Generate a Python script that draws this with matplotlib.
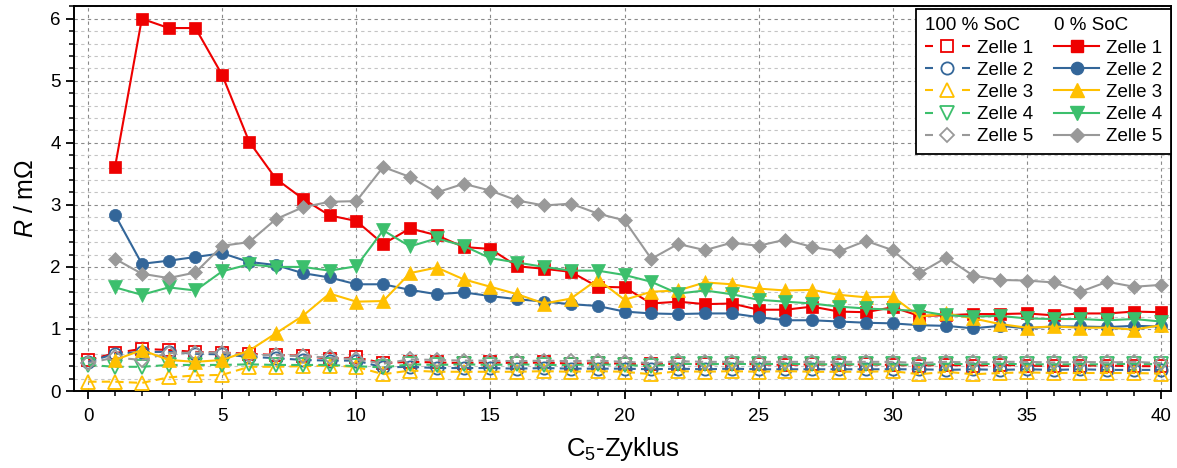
import matplotlib
matplotlib.use("Agg")
import matplotlib.pyplot as plt
from matplotlib.lines import Line2D
from matplotlib.ticker import MultipleLocator

plt.rcParams["font.family"] = ["Liberation Sans", "DejaVu Sans"]
plt.rcParams["mathtext.fontset"] = "custom"
plt.rcParams["mathtext.rm"] = "Liberation Sans"
plt.rcParams["mathtext.it"] = "Liberation Sans:italic"
plt.rcParams["mathtext.default"] = "regular"

# ---- data -------------------------------------------------------------
cycles_charged = list(range(0, 41))      # 100 % SoC measurements
cycles_discharged = list(range(1, 41))   # 0 % SoC measurements

cell_names = ["Zelle 1", "Zelle 2", "Zelle 3", "Zelle 4", "Zelle 5"]
header_charged = "100 % SoC"
header_discharged = "0 % SoC"

r100_cell1 = [0.50, 0.61, 0.68, 0.66, 0.63, 0.62, 0.60, 0.58, 0.57, 0.52, 0.54,
              0.45, 0.47, 0.46, 0.45, 0.46, 0.45, 0.46, 0.44, 0.45, 0.44,
              0.43, 0.44, 0.43, 0.44, 0.43, 0.42, 0.43, 0.42, 0.43, 0.42,
              0.41, 0.42, 0.41, 0.42, 0.41, 0.40, 0.41, 0.41, 0.40, 0.40]
r100_cell2 = [0.47, 0.60, 0.63, 0.63, 0.60, 0.59, 0.55, 0.53, 0.50, 0.49, 0.49,
              0.38, 0.39, 0.37, 0.37, 0.37, 0.36, 0.37, 0.36, 0.36, 0.36,
              0.35, 0.36, 0.35, 0.36, 0.35, 0.35, 0.35, 0.35, 0.35, 0.35,
              0.35, 0.34, 0.35, 0.34, 0.35, 0.34, 0.35, 0.34, 0.34, 0.34]
r100_cell3 = [0.15, 0.15, 0.13, 0.22, 0.25, 0.26, 0.39, 0.39, 0.40, 0.41, 0.39,
              0.27, 0.33, 0.31, 0.31, 0.31, 0.31, 0.32, 0.31, 0.32, 0.31,
              0.27, 0.32, 0.31, 0.32, 0.31, 0.32, 0.31, 0.31, 0.31, 0.32,
              0.27, 0.31, 0.27, 0.29, 0.30, 0.29, 0.29, 0.29, 0.29, 0.28]
r100_cell4 = [0.42, 0.39, 0.39, 0.42, 0.42, 0.42, 0.43, 0.42, 0.42, 0.42, 0.40,
              0.38, 0.43, 0.42, 0.43, 0.42, 0.43, 0.42, 0.42, 0.43, 0.42,
              0.40, 0.44, 0.43, 0.44, 0.43, 0.44, 0.43, 0.43, 0.43, 0.43,
              0.42, 0.44, 0.43, 0.44, 0.43, 0.43, 0.43, 0.43, 0.44, 0.43]
r100_cell5 = [0.45, 0.54, 0.50, 0.61, 0.62, 0.62, 0.58, 0.58, 0.56, 0.54, 0.51,
              0.44, 0.51, 0.50, 0.49, 0.49, 0.48, 0.49, 0.48, 0.49, 0.47,
              0.45, 0.48, 0.47, 0.47, 0.47, 0.47, 0.47, 0.47, 0.47, 0.47,
              0.45, 0.47, 0.46, 0.47, 0.47, 0.46, 0.47, 0.46, 0.47, 0.45]

r0_cell1 = [3.61, 6.00, 5.85, 5.85, 5.09, 4.02, 3.42, 3.10, 2.83, 2.74,
            2.37, 2.62, 2.51, 2.32, 2.29, 2.01, 1.97, 1.92, 1.68, 1.67,
            1.41, 1.44, 1.40, 1.41, 1.31, 1.31, 1.36, 1.28, 1.27, 1.35,
            1.21, 1.22, 1.24, 1.24, 1.25, 1.22, 1.25, 1.25, 1.28, 1.27]
r0_cell2 = [2.84, 2.05, 2.10, 2.16, 2.22, 2.08, 2.03, 1.90, 1.83, 1.72,
            1.72, 1.63, 1.56, 1.59, 1.53, 1.48, 1.44, 1.40, 1.37, 1.28,
            1.25, 1.24, 1.25, 1.25, 1.19, 1.14, 1.14, 1.12, 1.10, 1.09,
            1.06, 1.05, 1.01, 1.05, 1.01, 1.04, 1.04, 1.03, 1.05, 1.04]
r0_cell3 = [0.50, 0.66, 0.50, 0.47, 0.50, 0.65, 0.93, 1.21, 1.57, 1.44,
            1.45, 1.90, 1.99, 1.80, 1.68, 1.56, 1.41, 1.49, 1.80, 1.47,
            1.60, 1.62, 1.75, 1.72, 1.65, 1.62, 1.63, 1.55, 1.51, 1.52,
            1.20, 1.25, 1.17, 1.08, 1.02, 1.04, 1.02, 1.02, 0.99, 1.06]
r0_cell4 = [1.67, 1.55, 1.67, 1.62, 1.93, 2.04, 2.00, 2.00, 1.94, 2.01,
            2.59, 2.33, 2.46, 2.34, 2.14, 2.07, 2.00, 1.94, 1.94, 1.87,
            1.76, 1.57, 1.62, 1.56, 1.47, 1.44, 1.41, 1.36, 1.33, 1.31,
            1.29, 1.22, 1.20, 1.21, 1.17, 1.16, 1.16, 1.14, 1.16, 1.12]
r0_cell5 = [2.13, 1.89, 1.82, 1.91, 2.34, 2.40, 2.77, 2.96, 3.05, 3.06,
            3.61, 3.45, 3.20, 3.34, 3.23, 3.07, 2.99, 3.02, 2.86, 2.75,
            2.13, 2.37, 2.27, 2.39, 2.34, 2.44, 2.32, 2.25, 2.42, 2.27,
            1.90, 2.15, 1.86, 1.79, 1.78, 1.75, 1.60, 1.76, 1.68, 1.71]

# ---- styles -----------------------------------------------------------
colors = ["#EE0000", "#336699", "#FFC000", "#3CBF6C", "#999999"]
markers = ["s", "o", "^", "v", "D"]
msizes = [8.3, 8.8, 10.5, 10.5, 7.3]

charged = [r100_cell1, r100_cell2, r100_cell3, r100_cell4, r100_cell5]
discharged = [r0_cell1, r0_cell2, r0_cell3, r0_cell4, r0_cell5]

W, H, DPI = 1177, 468, 100
fig = plt.figure(figsize=(W / DPI, H / DPI), dpi=DPI)
ax = fig.add_axes([74 / W, 1 - 391 / H, (1171 - 74) / W, (391 - 5.7) / H])

for vals, c, m, ms in zip(charged, colors, markers, msizes):
    ax.plot(cycles_charged, vals, color=c, lw=1.5, dashes=(4, 2.5),
            marker=m, ms=ms, mfc="none", mec=c, mew=1.3, zorder=3)

for vals, c, m, ms in zip(discharged, colors, markers, msizes):
    ax.plot(cycles_discharged, vals, color=c, lw=1.5, marker=m, ms=ms,
            mfc=c, mec=c, mew=0.5, zorder=4)

ax.set_xlim(-0.53, 40.38)
ax.set_ylim(0, 6.21)
ax.xaxis.set_major_locator(MultipleLocator(5))
ax.xaxis.set_minor_locator(MultipleLocator(1))
ax.yaxis.set_major_locator(MultipleLocator(1))
ax.yaxis.set_minor_locator(MultipleLocator(0.2))

ax.set_axisbelow(True)
ax.grid(which="major", axis="both", linestyle=(0, (3, 3)), color="#8a8a8a", lw=0.8)
ax.grid(which="minor", axis="y", linestyle=(0, (3, 3)), color="#c4c4c4", lw=0.8)

for s in ax.spines.values():
    s.set_linewidth(1.4)
ax.tick_params(which="major", direction="out", length=6, width=1.3, labelsize=13.5)
ax.tick_params(axis="x", which="major", pad=6.5)
ax.tick_params(which="minor", direction="out", length=3.5, width=1.1)

ax.set_xlabel(r"C$_5$-Zyklus", fontsize=18.5, labelpad=7)
ax.set_ylabel(r"$\mathit{R}$ / mΩ", fontsize=18, labelpad=9)

# ---- legend with two titled columns -----------------------------------
lw_px = 1.5 * DPI / 72
blank = Line2D([], [], linestyle="none", marker="none")
open_handles = [Line2D([], [], color=c, lw=1.5, dashes=(8 / lw_px, 29 / lw_px),
                       marker=m, ms=ms, mfc="white", mec=c, mew=1.3)
                for c, m, ms in zip(colors, markers, msizes)]
filled_handles = [Line2D([], [], color=c, lw=1.5, marker=m, ms=ms, mfc=c, mec=c)
                  for c, m, ms in zip(colors, markers, msizes)]
handles = [blank] + open_handles + [blank] + filled_handles
labels = [" "] + cell_names + [" "] + cell_names

leg_fs = 13.5
hlen, htpad = 2.4, 0.37
leg = ax.legend(handles, labels, ncol=2, loc="upper right",
                bbox_to_anchor=(1.0, 0.992), borderaxespad=0.0,
                fontsize=leg_fs, handlelength=hlen, handletextpad=htpad,
                columnspacing=1.15, labelspacing=0.27, borderpad=0.45,
                fancybox=False, framealpha=1.0, edgecolor="black")
leg.get_frame().set_linewidth(1.3)
leg.set_zorder(10)

fig.canvas.draw()
fs_px = leg_fs * DPI / 72
texts = leg.get_texts()
inv = fig.transFigure.inverted()
for col, title in enumerate([header_charged, header_discharged]):
    row0 = texts[6 * col].get_window_extent()
    first = texts[6 * col + 1].get_window_extent()
    x_px = first.x0 - (hlen + htpad) * fs_px
    fx, fy = inv.transform((x_px, row0.y0))
    fig.text(fx, fy, title, fontsize=leg_fs, ha="left", va="bottom", zorder=11)

fig.savefig("out.png", dpi=DPI)
